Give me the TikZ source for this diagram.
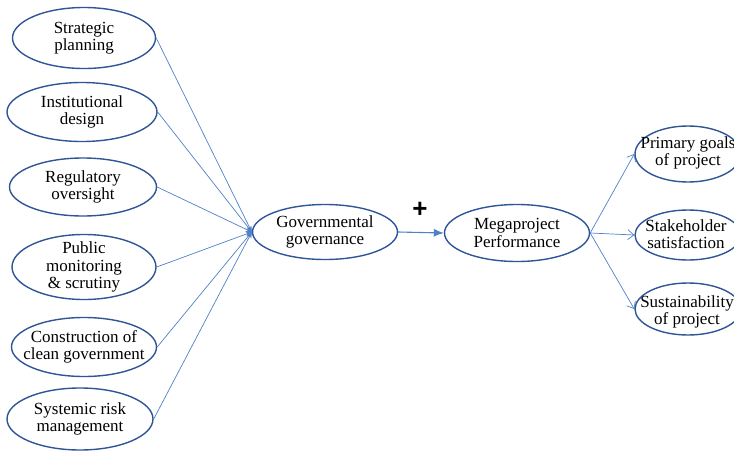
\documentclass[tikz,border=0pt]{standalone}
\usepackage{fontspec}
\setmainfont{Liberation Serif}
\newfontfamily\plusfont{Liberation Sans}
\usetikzlibrary{shapes.geometric,arrows.meta}
\definecolor{ovalblue}{HTML}{2F5597}
\definecolor{lineblue}{HTML}{4F81C7}
\tikzset{
  oval/.style={ellipse, draw=ovalblue, line width=1.4pt, minimum width=145pt, minimum height=60pt, inner sep=0pt},
  txt/.style={align=center, font=\fontsize{17}{17.5}\selectfont},
  link/.style={draw=lineblue, line width=0.7pt},
}
\begin{document}
\begin{tikzpicture}[x=1pt, y=-1pt, line join=round, line cap=round]
	\useasboundingbox (0,0) rectangle (734,453);
	% left factors
	\node[oval, minimum width=143pt, minimum height=61pt] (sp) at (84,38) {};
	\node[oval, minimum width=150pt, minimum height=59pt] (id) at (82,112) {};
	\node[oval, minimum width=147pt, minimum height=58pt] (ro) at (83,187) {};
	\node[oval, minimum width=144pt, minimum height=65pt] (pm) at (84,267) {};
	\node[oval, minimum width=145pt, minimum height=59pt] (cg) at (84,347) {};
	\node[oval, minimum width=146pt, minimum height=62pt] (rm) at (80,419) {};
	\node[txt] at (sp) {Strategic\\planning};
	\node[txt] at (id) {Institutional\\design};
	\node[txt] at (ro) {Regulatory\\oversight};
	\node[txt] at (pm) {Public\\monitoring\\\& scrutiny};
	\node[txt] at (cg) {Construction of\\clean government};
	\node[txt] at (rm) {Systemic risk\\management};
	% middle
	\node[oval, minimum width=145pt, minimum height=55pt] (gov) at (325,232) {};
	\node[txt] at (gov) {Governmental\\governance};
	\node[oval, minimum width=145pt, minimum height=57pt] (mp) at (517,233) {};
	\node[txt] at (mp) {Megaproject\\Performance};
	% right outcomes
	\node[oval, minimum width=106pt, minimum height=56pt] (pg) at (688,154) {};
	\node[oval, minimum width=106pt, minimum height=50pt] (ss) at (688,235) {};
	\node[oval, minimum width=106pt, minimum height=52pt] (su) at (688,309) {};
	\node[txt] at (688,153) {Primary goals\\of project};
	\node[txt] at (686,234) {Stakeholder\\satisfaction};
	\node[txt] at (687,312) {Sustainability\\of project};
	% connectors
	\foreach \n in {sp,id,ro,pm,cg,rm}
		\draw[link, -{Stealth[length=6pt,width=5pt]}] (\n.east) -- (gov.west);
	\draw[link, line width=1.1pt, -{Latex[length=10pt,width=8pt]}] (gov.east) -- (mp.west);
	\node[font=\plusfont\fontsize{26}{26}\selectfont\bfseries] (plus) at (420,210) {+};
	\foreach \n in {pg,ss,su}
		\draw[link, -{Straight Barb[length=6pt,width=10pt]}] (mp.east) -- (\n.west);
\end{tikzpicture}
\end{document}
